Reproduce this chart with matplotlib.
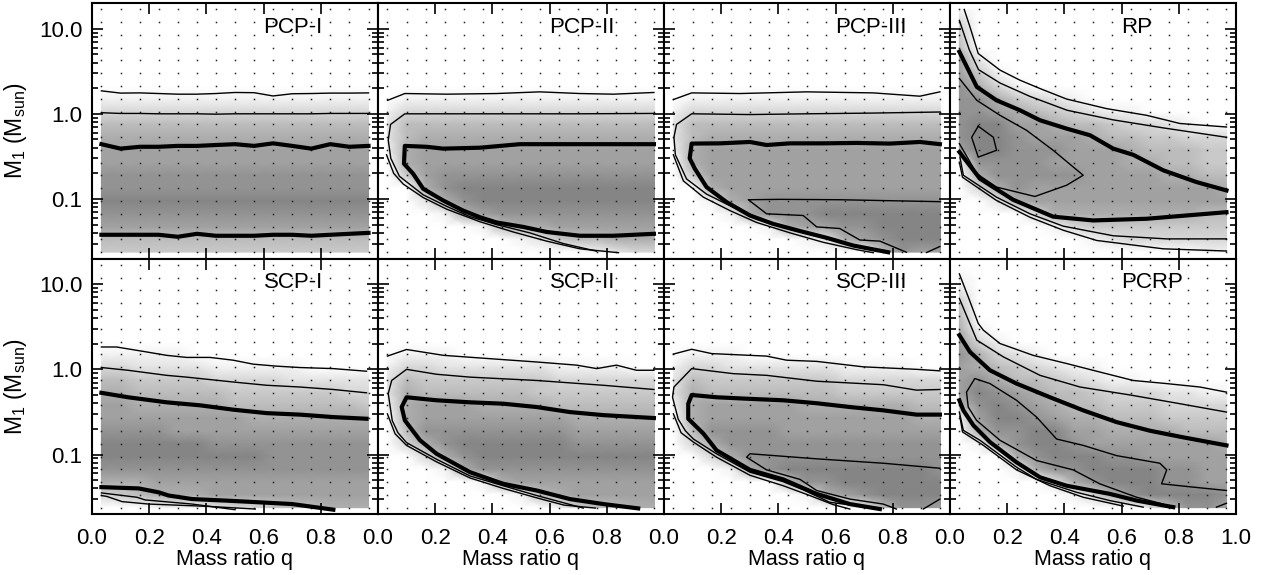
import numpy as np
import matplotlib.pyplot as plt

plt.rcParams['font.family'] = ['Liberation Sans', 'DejaVu Sans']
plt.rcParams['mathtext.fontset'] = 'custom'
plt.rcParams['mathtext.rm'] = 'Liberation Sans'
plt.rcParams['mathtext.it'] = 'Liberation Sans'

# grid cell centres of the density maps
q_cells = [0.033, 0.1, 0.167, 0.233, 0.3, 0.367, 0.433, 0.5, 0.567, 0.633,
           0.7, 0.767, 0.833, 0.9, 0.967]
m_cells = [16.83, 11.91, 8.433, 5.970, 4.227, 2.992, 2.118, 1.500, 1.062, 0.7516,
           0.5321, 0.3767, 0.2667, 0.1888, 0.1337, 0.09462, 0.06699, 0.04742,
           0.03357, 0.02377]  # top -> bottom

panel_names = ["PCP-I", "PCP-II", "PCP-III", "RP", "SCP-I", "SCP-II", "SCP-III", "PCRP"]

# density (0 = empty ... 9 = densest), one string per m_cells row
pcp1_density = [
    "000000000000000", "000000000000000", "000000000000000", "000000000000000",
    "000000000000000", "000000000000000", "000000000000000", "111111111111111",
    "333333333333333", "555555555555555", "666666666666666", "777777777777777",
    "777777777777777", "888888888888888", "888888888888888", "999999999999999",
    "888888888888888", "777777777777777", "555555555555555", "444444444444444"]
pcp2_density = [
    "000000000000000", "000000000000000", "000000000000000", "000000000000000",
    "000000000000000", "000000000000000", "000000000000000", "011111111111111",
    "133333333333333", "255555555555555", "256666666666666", "167777777777777",
    "067777777777777", "047888888888888", "006899999999999", "002689999999999",
    "000167888888888", "000001566777777", "000000012455666", "000000000001233"]
pcp3_density = [
    "000000000000000", "000000000000000", "000000000000000", "000000000000000",
    "000000000000000", "000000000000000", "000000000000000", "011111111111111",
    "133333333333333", "255555555555555", "256666666666666", "167777777777777",
    "067777777777777", "047777777777777", "006777777777777", "001678888888888",
    "000168889999999", "000001677889999", "000000012678999", "000000000005877"]
rp_density = [
    "100000000000000", "300000000000000", "400000000000000", "500000000000000",
    "720000000000000", "741000000000000", "863100000000000", "886432100000000",
    "887654321100000", "899776554332100", "899877765544333", "799888777655544",
    "188887777665544", "068888877776655", "036877777777776", "002677777777777",
    "000036666666655", "000001344444444", "000000012333333", "000000000000011"]
scp1_density = [
    "000000000000000", "000000000000000", "000000000000000", "000000000000000",
    "000000000000000", "000000000000000", "000000000000000", "111110000000000",
    "332222111110000", "554444333322222", "665555544444433", "776666655555554",
    "777777776666666", "888877777777777", "999999888888888", "999999999888888",
    "888888888888888", "666777777777777", "345666777777777", "000111233455666"]
scp2_density = [
    "000000000000000", "000000000000000", "000000000000000", "000000000000000",
    "000000000000000", "000000000000000", "000000000000000", "011100000000000",
    "133222222111100", "254444444333333", "265555554444444", "167776666555555",
    "067777777766666", "058888888877777", "036899999988888", "003689999999999",
    "000168888888888", "000001677777777", "000000015677777", "000000000145566"]
scp3_density = [
    "000000000000000", "000000000000000", "000000000000000", "000000000000000",
    "000000000000000", "000000000000000", "000000000000000", "011100000000000",
    "133222222111100", "254444444333333", "265555555444444", "167777766666655",
    "067777777777766", "058888777777777", "036888888888888", "003688888888888",
    "000168999999998", "000000588999999", "000000016789999", "000000000025887"]
pcrp_density = [
    "000000000000000", "100000000000000", "200000000000000", "400000000000000",
    "500000000000000", "610000000000000", "731000000000000", "863210000000000",
    "765432110000000", "786554321100000", "798765543332211", "589876554443333",
    "179987665554444", "068899776666555", "016899877777776", "000689998877777",
    "000168899998877", "000002689998877", "000000136899998", "000000000025887"]

# contour lines: (level, q values, M1 values); level 3 is the heavy contour
pcp1_lines = [
    (1, q_cells, [1.86, 1.75, 1.76, 1.73, 1.70, 1.70, 1.73, 1.78, 1.77, 1.62, 1.72, 1.73, 1.75, 1.75, 1.76]),
    (2, q_cells, [1.03, 1.01, 1.01, 1.00, 1.00, 1.00, 0.99, 1.00, 1.00, 1.00, 1.00, 1.00, 1.01, 1.01, 1.01]),
    (3, q_cells, [0.44, 0.39, 0.41, 0.41, 0.42, 0.42, 0.43, 0.44, 0.42, 0.45, 0.42, 0.39, 0.44, 0.41, 0.42]),
    (3, q_cells, [0.038, 0.038, 0.038, 0.038, 0.036, 0.039, 0.037, 0.037, 0.037, 0.038, 0.038, 0.037,
                  0.038, 0.039, 0.040]),
]
pcp2_lines = [
    (1, [0.034, 0.094, 0.24, 0.415, 0.566, 0.706, 0.823, 0.965],
        [1.44, 1.73, 1.70, 1.73, 1.81, 1.73, 1.70, 1.78]),
    (2, [0.965, 0.7, 0.4, 0.094, 0.044, 0.036, 0.045, 0.075, 0.158, 0.240, 0.322, 0.415, 0.531, 0.648, 0.764],
        [1.01, 1.0, 1.0, 1.0, 0.75, 0.49, 0.30, 0.185, 0.112, 0.082, 0.062, 0.050, 0.040, 0.030, 0.0244]),
    (1, [0.030, 0.055, 0.088, 0.158, 0.240, 0.357, 0.473, 0.590, 0.706, 0.841],
        [0.33, 0.20, 0.150, 0.104, 0.076, 0.054, 0.041, 0.032, 0.026, 0.0234]),
    (3, [0.965, 0.916, 0.706, 0.496, 0.357, 0.228, 0.170, 0.094, 0.091, 0.123, 0.158, 0.228, 0.298,
         0.357, 0.415, 0.508, 0.590, 0.706, 0.823, 0.965],
        [0.44, 0.44, 0.44, 0.44, 0.40, 0.39, 0.41, 0.42, 0.26, 0.198, 0.132, 0.096, 0.073, 0.061,
         0.053, 0.047, 0.041, 0.037, 0.037, 0.039]),
]
pcp3_lines = [
    (1, [0.033, 0.097, 0.266, 0.499, 0.732, 0.895, 0.965], [1.47, 1.76, 1.73, 1.81, 1.76, 1.61, 1.81]),
    (2, [0.965, 0.732, 0.499, 0.301, 0.097, 0.044, 0.035, 0.040, 0.079, 0.149, 0.242, 0.324, 0.441,
         0.557, 0.674, 0.744],
        [1.05, 1.02, 1.0, 0.98, 1.0, 0.75, 0.53, 0.33, 0.172, 0.114, 0.080, 0.058, 0.044, 0.035, 0.0275, 0.0244]),
    (1, [0.033, 0.068, 0.138, 0.231, 0.324, 0.441, 0.557, 0.674, 0.732],
        [0.33, 0.163, 0.105, 0.073, 0.053, 0.040, 0.031, 0.0254, 0.0234]),
    (3, [0.965, 0.895, 0.79, 0.674, 0.557, 0.441, 0.359, 0.301, 0.196, 0.097, 0.090, 0.108, 0.149,
         0.219, 0.301, 0.382, 0.476, 0.569, 0.662, 0.784],
        [0.44, 0.467, 0.447, 0.455, 0.45, 0.45, 0.43, 0.467, 0.45, 0.447, 0.30, 0.227, 0.138, 0.092,
         0.064, 0.051, 0.042, 0.035, 0.0284, 0.0237]),
    (4, [0.965, 0.615, 0.406, 0.295, 0.359, 0.487, 0.534, 0.615, 0.685, 0.755, 0.848],
        [0.093, 0.098, 0.099, 0.098, 0.067, 0.064, 0.047, 0.045, 0.033, 0.032, 0.0237]),
    (4, [0.918, 0.965], [0.0235, 0.0277]),
]
rp_lines = [
    (1, [0.05, 0.07, 0.099, 0.175, 0.245, 0.315, 0.408, 0.548, 0.688, 0.804, 0.967],
        [16.8, 10.5, 5.1, 3.26, 2.48, 1.98, 1.49, 1.15, 0.96, 0.77, 0.70]),
    (2, [0.033, 0.068, 0.1, 0.175, 0.28, 0.41, 0.57, 0.75, 0.967],
        [12.5, 5.6, 3.3, 2.3, 1.6, 1.1, 0.85, 0.68, 0.53]),
    (3, [0.033, 0.094, 0.163, 0.245, 0.315, 0.408, 0.49, 0.571, 0.641, 0.746, 0.862, 0.967],
        [5.35, 2.07, 1.44, 1.10, 0.84, 0.67, 0.56, 0.39, 0.33, 0.217, 0.158, 0.126]),
    (4, [0.033, 0.094, 0.175, 0.268, 0.361, 0.466, 0.408, 0.297, 0.163, 0.094, 0.033],
        [2.6, 1.44, 0.96, 0.64, 0.373, 0.19, 0.145, 0.107, 0.138, 0.198, 0.447]),
    (5, [0.099, 0.076, 0.099, 0.163, 0.152, 0.099], [0.715, 0.53, 0.31, 0.373, 0.53, 0.715]),
    (3, [0.033, 0.105, 0.221, 0.361, 0.501, 0.688, 0.967], [0.356, 0.173, 0.098, 0.062, 0.056, 0.0586, 0.070]),
    (2, [0.035, 0.047, 0.163, 0.28, 0.396, 0.571, 0.758, 0.967], [0.31, 0.19, 0.105, 0.067, 0.048, 0.037, 0.034, 0.034]),
    (1, [0.033, 0.044, 0.163, 0.28, 0.396, 0.513, 0.746, 0.967], [0.27, 0.18, 0.096, 0.061, 0.043, 0.0326, 0.026, 0.0245]),
]
scp1_lines = [
    (1, [0.033, 0.086, 0.191, 0.261, 0.331, 0.413, 0.494, 0.564, 0.646, 0.727, 0.844, 0.960],
        [1.83, 1.83, 1.60, 1.46, 1.38, 1.38, 1.28, 1.15, 1.09, 1.05, 1.02, 0.95]),
    (2, [0.033, 0.126, 0.261, 0.331, 0.494, 0.611, 0.727, 0.844, 0.960],
        [1.05, 0.975, 0.85, 0.81, 0.71, 0.65, 0.62, 0.58, 0.53]),
    (3, [0.033, 0.126, 0.261, 0.378, 0.494, 0.611, 0.727, 0.844, 0.960],
        [0.53, 0.47, 0.41, 0.378, 0.336, 0.306, 0.294, 0.275, 0.263]),
    (3, [0.033, 0.163, 0.233, 0.268, 0.35, 0.466, 0.583, 0.70, 0.844],
        [0.0414, 0.040, 0.036, 0.033, 0.030, 0.0288, 0.0275, 0.0262, 0.0225]),
    (2, [0.033, 0.157, 0.186, 0.35, 0.50], [0.0354, 0.0315, 0.0293, 0.0262, 0.0225]),
    (1, [0.033, 0.052, 0.105, 0.198, 0.408, 0.571], [0.033, 0.0322, 0.028, 0.0262, 0.0246, 0.0229]),
]
scp2_lines = [
    (1, [0.033, 0.1, 0.229, 0.438, 0.555, 0.695, 0.765, 0.834, 0.904, 0.965],
        [1.43, 1.71, 1.46, 1.30, 1.22, 1.12, 1.02, 1.12, 0.975, 0.975]),
    (2, [0.965, 0.788, 0.555, 0.322, 0.205, 0.1, 0.048, 0.036, 0.05, 0.07, 0.1, 0.205, 0.322, 0.438, 0.555, 0.718],
        [0.58, 0.65, 0.74, 0.81, 0.875, 1.0, 0.74, 0.52, 0.25, 0.18, 0.138, 0.088, 0.056, 0.043, 0.033, 0.0235]),
    (1, [0.033, 0.06, 0.1, 0.205, 0.322, 0.438, 0.555, 0.65, 0.76],
        [0.30, 0.175, 0.128, 0.082, 0.053, 0.040, 0.031, 0.0255, 0.0235]),
    (3, [0.965, 0.788, 0.671, 0.555, 0.438, 0.322, 0.205, 0.1, 0.083, 0.094, 0.147, 0.205, 0.322, 0.438,
         0.555, 0.671, 0.788, 0.91],
        [0.268, 0.29, 0.315, 0.361, 0.395, 0.41, 0.433, 0.47, 0.361, 0.252, 0.147, 0.102, 0.062, 0.0453,
         0.0378, 0.030, 0.0262, 0.0233]),
]
scp3_lines = [
    (1, [0.033, 0.097, 0.167, 0.359, 0.429, 0.534, 0.697, 0.883, 0.965],
        [1.51, 1.72, 1.53, 1.43, 1.28, 1.24, 1.07, 1.0, 0.96]),
    (2, [0.965, 0.883, 0.767, 0.534, 0.359, 0.242, 0.097, 0.035, 0.03, 0.05, 0.075, 0.103, 0.184, 0.301,
         0.417, 0.487, 0.580, 0.709],
        [0.58, 0.57, 0.66, 0.725, 0.85, 0.89, 1.02, 0.62, 0.47, 0.26, 0.19, 0.152, 0.102, 0.062, 0.048,
         0.0385, 0.0275, 0.0241]),
    (1, [0.033, 0.06, 0.103, 0.184, 0.301, 0.417, 0.510, 0.592, 0.650],
        [0.30, 0.18, 0.14, 0.093, 0.057, 0.043, 0.033, 0.0258, 0.0229]),
    (3, [0.965, 0.883, 0.767, 0.65, 0.534, 0.417, 0.301, 0.184, 0.097, 0.085, 0.085, 0.138, 0.184, 0.301,
         0.417, 0.534, 0.65, 0.755],
        [0.294, 0.294, 0.33, 0.361, 0.40, 0.433, 0.45, 0.47, 0.50, 0.395, 0.263, 0.176, 0.112, 0.066,
         0.051, 0.0345, 0.0262, 0.0229]),
    (4, [0.965, 0.767, 0.534, 0.301, 0.289, 0.359, 0.476, 0.534, 0.650, 0.767, 0.813],
        [0.069, 0.079, 0.089, 0.102, 0.093, 0.066, 0.051, 0.0378, 0.030, 0.0262, 0.0229]),
    (4, [0.907, 0.965], [0.0229, 0.030]),
]
pcrp_lines = [
    (1, [0.033, 0.064, 0.099, 0.117, 0.175, 0.291, 0.408, 0.524, 0.641, 0.758, 0.874, 0.967],
        [13.2, 7.1, 3.46, 2.88, 2.01, 1.46, 1.17, 0.93, 0.74, 0.68, 0.62, 0.54]),
    (2, [0.033, 0.094, 0.187, 0.315, 0.455, 0.63, 0.804, 0.967],
        [6.8, 2.2, 1.40, 0.85, 0.62, 0.50, 0.395, 0.315]),
    (3, [0.033, 0.07, 0.14, 0.233, 0.35, 0.466, 0.583, 0.70, 0.816, 0.967],
        [2.52, 1.6, 0.975, 0.68, 0.47, 0.33, 0.24, 0.19, 0.159, 0.128]),
    (4, [0.746, 0.653, 0.524, 0.431, 0.303, 0.175, 0.093, 0.064, 0.058, 0.087, 0.14, 0.233, 0.303, 0.373,
         0.466, 0.583, 0.734, 0.758, 0.740, 0.851, 0.967],
        [0.0262, 0.0315, 0.0453, 0.066, 0.085, 0.147, 0.252, 0.361, 0.54, 0.78, 0.68, 0.433, 0.275, 0.152,
         0.128, 0.097, 0.079, 0.066, 0.0453, 0.0414, 0.0378]),
    (3, [0.033, 0.047, 0.082, 0.14, 0.233, 0.315, 0.408, 0.559, 0.653, 0.781],
        [0.433, 0.33, 0.22, 0.14, 0.081, 0.054, 0.043, 0.0345, 0.0288, 0.0241]),
    (2, [0.033, 0.047, 0.105, 0.233, 0.303, 0.443, 0.559, 0.676],
        [0.315, 0.192, 0.147, 0.071, 0.051, 0.036, 0.0288, 0.0241]),
    (1, [0.035, 0.044, 0.117, 0.233, 0.35, 0.466, 0.606],
        [0.28, 0.184, 0.128, 0.066, 0.043, 0.0315, 0.0248]),
    (4, [0.932, 0.967], [0.0241, 0.0268]),
]

densities = [pcp1_density, pcp2_density, pcp3_density, rp_density,
             scp1_density, scp2_density, scp3_density, pcrp_density]
all_lines = [pcp1_lines, pcp2_lines, pcp3_lines, rp_lines,
             scp1_lines, scp2_lines, scp3_lines, pcrp_lines]

x_ticks = [0.0, 0.2, 0.4, 0.6, 0.8, 1.0]
y_ticks = [0.1, 1.0, 10.0]
y_ticklabels = ["0.1", "1.0", "10.0"]
y_minor = [0.02, 0.03, 0.04, 0.05, 0.06, 0.07, 0.08, 0.09,
           0.2, 0.3, 0.4, 0.5, 0.6, 0.7, 0.8, 0.9,
           2, 3, 4, 5, 6, 7, 8, 9]

fig, axes = plt.subplots(2, 4, figsize=(12.65, 5.75), dpi=100)
fig.subplots_adjust(left=0.0727, right=0.977, top=0.9948, bottom=0.106, wspace=0, hspace=0)

qq, mm = np.meshgrid(q_cells, m_cells)
for k, (ax, name, dens, lines) in enumerate(zip(axes.flat, panel_names, densities, all_lines)):
    row, col = divmod(k, 4)
    vals = np.array([[int(c) for c in r] for r in dens], dtype=float)
    shade = 1.0 - 0.053 * vals
    ax.set_yscale('log')
    ax.pcolormesh(q_cells, m_cells, shade, shading='gouraud', cmap='gray',
                  vmin=0, vmax=1, zorder=0, rasterized=True)
    ax.plot(qq.ravel(), mm.ravel(), ls='none', marker='s', ms=1.1, mew=0,
            color='#222222', zorder=1)
    for level, qs, ms in lines:
        ax.plot(qs, ms, color='k', lw=3.0 if level == 3 else 1.0,
                solid_joinstyle='round', zorder=2)
    ax.set_xlim(0, 1)
    ax.set_ylim(0.02, 20)
    ax.text(0.60, 8.9, name, fontsize=16, ha='left', va='baseline')

    ax.set_xticks(x_ticks)
    ax.set_yticks(y_ticks)
    ax.set_yticks(y_minor, minor=True)
    ax.tick_params(which='both', direction='in', top=True, right=True, width=1.2,
                   labelsize=16)
    ax.tick_params(which='major', length=8)
    ax.tick_params(axis='x', which='major', pad=10)
    ax.tick_params(axis='y', which='major', pad=7)
    ax.tick_params(which='minor', length=4)
    ax.yaxis.set_minor_formatter(plt.NullFormatter())
    ax.xaxis.set_minor_locator(plt.NullLocator())
    if col == 0:
        ax.set_yticklabels(y_ticklabels)
        ax.set_ylabel(r'M$_1$ (M$_{\mathrm{sun}}$)', fontsize=16.5, labelpad=7)
    else:
        ax.set_yticklabels([])
    if row == 1:
        labels = ["0.0", "0.2", "0.4", "0.6", "0.8", "1.0" if col == 3 else ""]
        ax.set_xticklabels(labels)
        ax.set_xlabel('Mass ratio q', fontsize=15.5, labelpad=0)
    else:
        ax.set_xticklabels([])
    for s in ax.spines.values():
        s.set_linewidth(1.5)

fig.savefig('out.png', dpi=100)
